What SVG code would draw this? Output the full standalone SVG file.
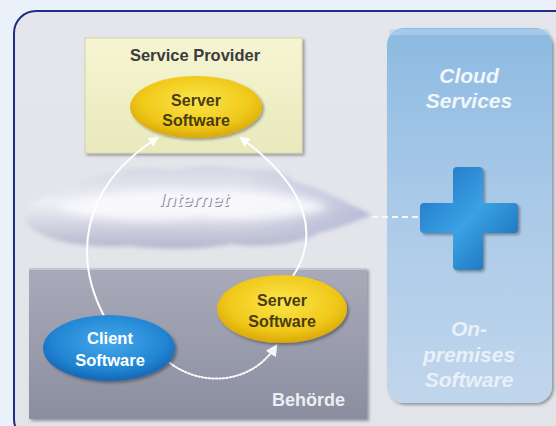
<svg xmlns="http://www.w3.org/2000/svg" width="556" height="426" viewBox="0 0 556 426">
  <defs>
    <linearGradient id="frameFill" x1="0" y1="0" x2="0" y2="1">
      <stop offset="0" stop-color="#e4e6ec"/>
      <stop offset="1" stop-color="#e2e4ea"/>
    </linearGradient>
    <linearGradient id="spFill" x1="0" y1="0" x2="0" y2="1">
      <stop offset="0" stop-color="#f5f5d2"/>
      <stop offset="1" stop-color="#e9e9bd"/>
    </linearGradient>
    <linearGradient id="behFill" x1="0" y1="0" x2="0" y2="1">
      <stop offset="0" stop-color="#a9abbb"/>
      <stop offset="1" stop-color="#8b8e9f"/>
    </linearGradient>
    <linearGradient id="panelFill" x1="0" y1="0" x2="0" y2="1">
      <stop offset="0" stop-color="#8cbae1"/>
      <stop offset="0.45" stop-color="#a9c9e8"/>
      <stop offset="1" stop-color="#c1d6ec"/>
    </linearGradient>
    <radialGradient id="yellowFill" cx="0.5" cy="0.4" r="0.6">
      <stop offset="0" stop-color="#fbe64a"/>
      <stop offset="0.7" stop-color="#f0c81a"/>
      <stop offset="1" stop-color="#d9a806"/>
    </radialGradient>
    <radialGradient id="blueFill" cx="0.5" cy="0.4" r="0.6">
      <stop offset="0" stop-color="#45a8ea"/>
      <stop offset="0.7" stop-color="#2286d4"/>
      <stop offset="1" stop-color="#1466b4"/>
    </radialGradient>
    <linearGradient id="plusFill" x1="0" y1="0" x2="1" y2="1">
      <stop offset="0" stop-color="#1c6fc0"/>
      <stop offset="0.5" stop-color="#3aa2e4"/>
      <stop offset="1" stop-color="#1563b0"/>
    </linearGradient>
    <linearGradient id="cloudFill" x1="0" y1="0" x2="0" y2="1">
      <stop offset="0" stop-color="#d4d6e2"/>
      <stop offset="0.45" stop-color="#eeeff5"/>
      <stop offset="1" stop-color="#b4b7cc"/>
    </linearGradient>
    <linearGradient id="cloudTint" x1="0" y1="0" x2="1" y2="0">
      <stop offset="0" stop-color="#b9bdd6" stop-opacity="0"/>
      <stop offset="0.6" stop-color="#b9bdd6" stop-opacity="0"/>
      <stop offset="1" stop-color="#a9aed0" stop-opacity="0.8"/>
    </linearGradient>
    <filter id="blur" x="-10%" y="-20%" width="120%" height="140%">
      <feGaussianBlur stdDeviation="2"/>
    </filter>
    <filter id="blur4" x="-10%" y="-30%" width="120%" height="160%">
      <feGaussianBlur stdDeviation="4"/>
    </filter>
    <filter id="shadow" x="-10%" y="-10%" width="125%" height="125%">
      <feGaussianBlur in="SourceAlpha" stdDeviation="1.5"/>
      <feOffset dx="1.5" dy="1.5"/>
      <feComponentTransfer><feFuncA type="linear" slope="0.35"/></feComponentTransfer>
      <feMerge><feMergeNode/><feMergeNode in="SourceGraphic"/></feMerge>
    </filter>
    <marker id="arrow" viewBox="0 0 10 10" refX="8" refY="5" markerWidth="5" markerHeight="5" orient="auto-start-reverse">
      <path d="M0,0 L10,5 L0,10 Z" fill="#ffffff"/>
    </marker>
    <marker id="arrowDot" viewBox="0 0 10 10" refX="8" refY="5" markerWidth="6" markerHeight="6" orient="auto-start-reverse">
      <path d="M0,0 L10,5 L0,10 Z" fill="#f4f4f8"/>
    </marker>
    <style>
      .lbl { font-family: "Liberation Sans", Arial, sans-serif; font-weight: bold; text-anchor: middle; }
      .dark { fill: #4a3c12; font-size: 16px; }
      .white { fill: #ffffff; font-size: 16.5px; }
      .ital { font-style: italic; fill: #f2f6fb; font-size: 21px; }
      .conn { fill: none; stroke: #ffffff; stroke-width: 2; stroke-linecap: round; }
    </style>
  </defs>

  <rect x="0" y="0" width="556" height="426" fill="#eaf1fa"/>
  <rect id="frame" x="14" y="11" width="570" height="430" rx="22" fill="url(#frameFill)" stroke="#202c86" stroke-width="2"/>

  <g id="cloud-services">
    <rect x="387" y="28" width="165" height="375" rx="17" fill="url(#panelFill)" filter="url(#shadow)"/>
    <rect x="389" y="29" width="161" height="6" rx="3" fill="#b6d4ee" opacity="0.6"/>
    <text class="lbl ital" x="469" y="83">Cloud</text>
    <text class="lbl ital" x="469" y="108">Services</text>
    <text class="lbl ital" x="469" y="336" fill-opacity="0.85">On-</text>
    <text class="lbl ital" x="469" y="362" fill-opacity="0.85">premises</text>
    <text class="lbl ital" x="469" y="387" fill-opacity="0.85">Software</text>
  </g>

  <g id="plus">
    <path d="M457,167 H479 A4,4 0 0 1 483,171 V203 H514 A4,4 0 0 1 518,207 V229 A4,4 0 0 1 514,233 H483 V266 A4,4 0 0 1 479,270 H457 A4,4 0 0 1 453,266 V233 H424 A4,4 0 0 1 420,229 V207 A4,4 0 0 1 424,203 H453 V171 A4,4 0 0 1 457,167 Z" fill="url(#plusFill)" filter="url(#shadow)"/>
  </g>

  <g id="service-provider">
    <rect x="85" y="38" width="217" height="115" fill="url(#spFill)" stroke="#d6d6a8" stroke-width="1" filter="url(#shadow)"/>
    <text class="lbl" x="195" y="61" font-size="16.5" fill="#3c3c3c">Service Provider</text>
  </g>

  <g id="behoerde">
    <rect x="29" y="268" width="338" height="151" fill="url(#behFill)" filter="url(#shadow)"/>
    <rect x="29" y="268" width="338" height="2" fill="#c4c6d2"/>
    <text class="lbl" x="345" y="406" font-size="18" fill="#eceef4" style="text-anchor:end">Behörde</text>
  </g>

  <g id="internet">
    <path d="M25,216 C28,202 48,193 68,190 C80,179 100,175 116,173 C132,166 160,168 176,170 C196,164 230,166 250,170 C270,168 286,173 294,181 C312,186 336,196 354,206 L372,215 C352,222 336,229 320,232 C300,244 262,248 232,244 C200,250 160,250 130,246 C100,248 70,245 50,238 C35,232 25,226 25,216 Z" fill="url(#cloudFill)" filter="url(#blur)"/>
    <path d="M25,216 C28,202 48,193 68,190 C80,179 100,175 116,173 C132,166 160,168 176,170 C196,164 230,166 250,170 C270,168 286,173 294,181 C312,186 336,196 354,206 L372,215 C352,222 336,229 320,232 C300,244 262,248 232,244 C200,250 160,250 130,246 C100,248 70,245 50,238 C35,232 25,226 25,216 Z" fill="url(#cloudTint)" filter="url(#blur)"/>
    <path d="M55,208 C95,192 160,188 200,192 C250,188 300,194 330,208 C300,218 250,222 200,218 C150,224 90,220 55,208 Z" fill="#fbfbfe" opacity="0.85" filter="url(#blur4)"/>
    <text class="lbl" x="194" y="206" font-size="19" font-style="italic" fill="#8e91a2" transform="translate(1,1)">Internet</text>
    <text class="lbl" x="194" y="206" font-size="19" font-style="italic" fill="#f6f6fa">Internet</text>
  </g>

  <g id="connectors">
    <path class="conn" d="M104,316 C76,262 76,190 157,138" marker-end="url(#arrow)"/>
    <path class="conn" d="M293,276 C318,238 312,190 241,138" marker-end="url(#arrow)"/>
    <path class="conn" d="M170,363 C200,386 250,386 276,346" stroke="#f0f0f6" stroke-width="2" stroke-dasharray="1.5 2" marker-end="url(#arrowDot)"/>
    <path d="M372,217 H418" fill="none" stroke="#f4f7fb" stroke-width="2" stroke-dasharray="6 4"/>
  </g>

  <g id="server-top">
    <ellipse cx="196" cy="107" rx="66" ry="31" fill="url(#yellowFill)" filter="url(#shadow)"/>
    <text class="lbl dark" x="196" y="106">Server</text>
    <text class="lbl dark" x="196" y="126">Software</text>
  </g>

  <g id="server-bottom">
    <ellipse cx="282" cy="309" rx="65" ry="34" fill="url(#yellowFill)" filter="url(#shadow)"/>
    <text class="lbl dark" x="282" y="306">Server</text>
    <text class="lbl dark" x="282" y="327">Software</text>
  </g>

  <g id="client">
    <ellipse cx="109" cy="348" rx="66" ry="33" fill="url(#blueFill)" filter="url(#shadow)"/>
    <text class="lbl white" x="110" y="344">Client</text>
    <text class="lbl white" x="110" y="366">Software</text>
  </g>
</svg>
